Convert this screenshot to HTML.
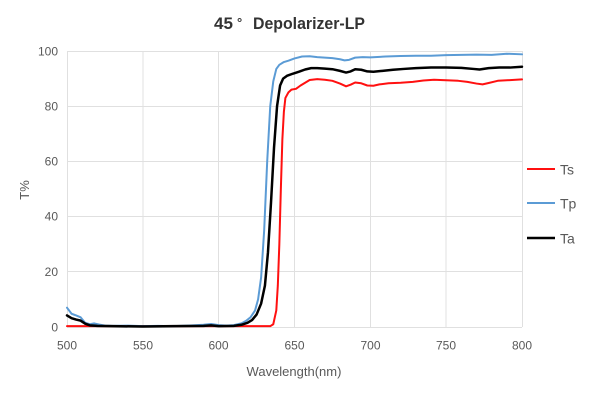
<!DOCTYPE html>
<html><head><meta charset="utf-8"><style>
html,body{margin:0;padding:0;background:#fff;}
svg{display:block;}
text{font-family:"Liberation Sans","Noto Sans CJK SC",sans-serif;}
</style></head><body>
<svg width="601" height="400" viewBox="0 0 601 400" xmlns="http://www.w3.org/2000/svg">
<rect width="601" height="400" fill="#fff"/>
<g stroke="#e0e0e0" stroke-width="1" fill="none">
<line x1="67" y1="51.5" x2="522" y2="51.5"/>
<line x1="67" y1="106.5" x2="522" y2="106.5"/>
<line x1="67" y1="161.5" x2="522" y2="161.5"/>
<line x1="67" y1="216.5" x2="522" y2="216.5"/>
<line x1="67" y1="271.5" x2="522" y2="271.5"/>
<line x1="67" y1="327.5" x2="522" y2="327.5"/>
<line x1="67.5" y1="51" x2="67.5" y2="327"/>
<line x1="143" y1="51" x2="143" y2="327"/>
<line x1="218.5" y1="51" x2="218.5" y2="327"/>
<line x1="294.5" y1="51" x2="294.5" y2="327"/>
<line x1="370.5" y1="51" x2="370.5" y2="327"/>
<line x1="446" y1="51" x2="446" y2="327"/>
<line x1="522.5" y1="51" x2="522.5" y2="327"/>
</g>
<g transform="translate(67,327) scale(1.51667,-2.76)" fill="none" stroke-linejoin="round" stroke-linecap="round">
<polyline vector-effect="non-scaling-stroke" stroke="#ff1010" stroke-width="2" points="0,0.3 134,0.3 136,1 138,6 139,15 140,30 141,50 142,68 143,78 144,83 146,85 148,86 151,86.3 154,87.5 157,88.5 160,89.5 165,89.8 170,89.6 175,89.2 180,88.2 184,87.2 187,87.8 190,88.6 194,88.3 198,87.5 202,87.4 206,87.9 212,88.3 220,88.5 228,88.8 235,89.3 242,89.6 250,89.4 258,89.2 264,88.8 270,88.2 274,87.9 278,88.4 284,89.2 290,89.4 300,89.7"/>
<polyline vector-effect="non-scaling-stroke" stroke="#5b9bd5" stroke-width="2" points="0,7 3,4.8 6,4.2 9,3.5 12,1.5 15,1.0 18,1.3 21,0.9 25,0.5 30,0.4 40,0.5 50,0.3 60,0.4 70,0.3 80,0.5 90,0.8 95,1.1 100,0.7 105,0.5 110,0.7 115,1.3 118,2.2 121,3.5 124,6 126,10 128,18 130,35 132,60 134,80 136,89 138,93.5 140,95 143,96 146,96.5 150,97.3 155,98 160,98.1 165,97.8 170,97.6 175,97.4 180,97 183,96.6 186,96.8 190,97.6 195,97.8 200,97.7 210,98 220,98.2 230,98.3 240,98.3 250,98.5 260,98.6 270,98.7 280,98.6 290,99 300,98.8"/>
<polyline vector-effect="non-scaling-stroke" stroke="#000" stroke-width="2.5" points="0,4.2 3,3.2 6,2.7 9,2.3 12,1.2 15,0.6 20,0.4 30,0.3 50,0.2 70,0.3 90,0.4 95,0.6 100,0.3 110,0.4 115,0.8 119,1.5 122,2.5 125,4.5 128,8.5 130.5,15 132.5,27 134.5,45 136.5,65 138.5,80 140.5,87.5 142.5,90 145,91 149,91.8 153,92.5 157,93.3 161,93.8 165,93.8 170,93.6 175,93.4 180,92.8 184,92.2 187,92.6 190,93.4 194,93.2 198,92.6 202,92.5 208,92.8 215,93.2 222,93.5 230,93.8 240,94 250,94 260,93.9 268,93.5 272,93.3 278,93.8 285,94 292,94 300,94.3"/>
</g>
<g fill="#333" font-weight="bold" font-size="17">
<text x="214" y="29">45</text>
<text x="237" y="27" font-size="13">°</text>
<text x="253" y="29" textLength="112" lengthAdjust="spacingAndGlyphs">Depolarizer-LP</text>
</g>
<g fill="#595959" font-size="12" text-anchor="end">
<text x="58" y="55.5">100</text>
<text x="58" y="110.5">80</text>
<text x="58" y="165.5">60</text>
<text x="58" y="220.5">40</text>
<text x="58" y="276">20</text>
<text x="58" y="331.5">0</text>
</g>
<g fill="#595959" font-size="12" text-anchor="middle">
<text x="67" y="349.5">500</text>
<text x="143" y="349.5">550</text>
<text x="218.5" y="349.5">600</text>
<text x="294.5" y="349.5">650</text>
<text x="370.5" y="349.5">700</text>
<text x="446" y="349.5">750</text>
<text x="522" y="349.5">800</text>
</g>
<text x="294" y="376" fill="#595959" font-size="13" text-anchor="middle">Wavelength(nm)</text>
<text transform="translate(29,190) rotate(-90)" fill="#595959" font-size="13" text-anchor="middle">T%</text>
<line x1="527" y1="169" x2="555" y2="169" stroke="#ff1010" stroke-width="2"/>
<line x1="527" y1="203" x2="555" y2="203" stroke="#5b9bd5" stroke-width="2"/>
<line x1="527" y1="238" x2="555" y2="238" stroke="#000" stroke-width="2.5"/>
<g fill="#595959" font-size="14">
<text x="560" y="174.5">Ts</text>
<text x="560" y="208.5">Tp</text>
<text x="560" y="243.5">Ta</text>
</g>
</svg>
</body></html>
